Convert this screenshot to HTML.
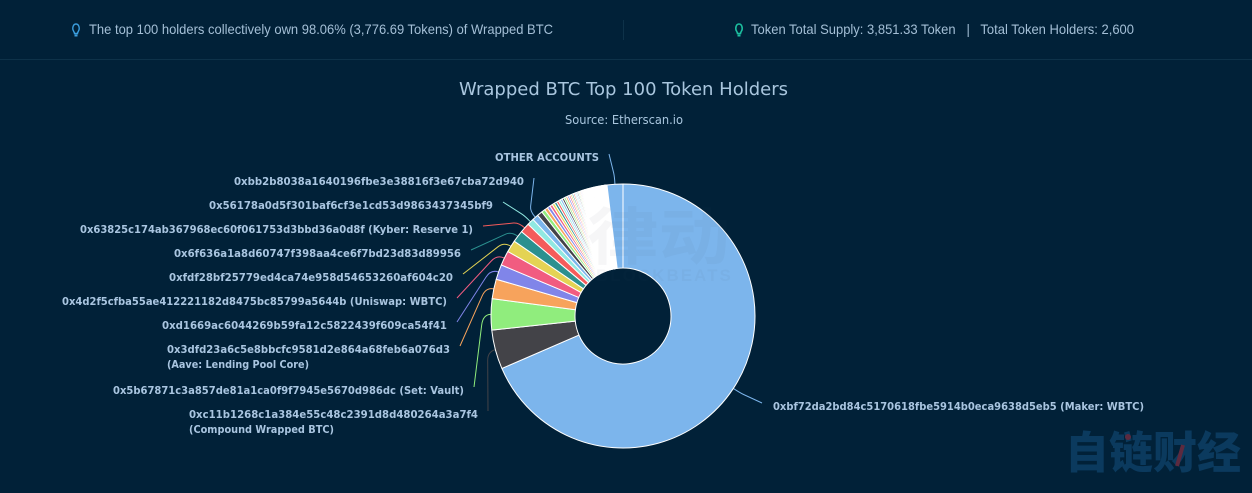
<!DOCTYPE html>
<html lang="en">
<head>
<meta charset="utf-8">
<title>Wrapped BTC Top 100 Token Holders</title>
<style>
html,body{margin:0;padding:0;width:1252px;height:493px;overflow:hidden;background:#012138;}
svg{display:block;}
.stat{font-family:"Liberation Sans",sans-serif;font-size:14px;fill:#a4bfd6;}
.lbl{font-family:"DejaVu Sans",sans-serif;font-size:11px;font-weight:bold;fill:#a9c5e0;}
</style>
</head>
<body>
<svg id="chart" xmlns="http://www.w3.org/2000/svg" width="1252" height="493" viewBox="0 0 1252 493">
  <rect x="0" y="0" width="1252" height="493" fill="#012138"/>
  <line x1="0" y1="59.5" x2="1252" y2="59.5" stroke="#0e3249"/>
  <line x1="623.5" y1="20" x2="623.5" y2="40" stroke="#0e3249"/>

  <g fill="none" stroke="#3b9ede" stroke-width="1.4">
    <path d="M73.500 31 C72 28.500 73 24 76 24 C79 24 80 28.500 78.500 31 C77.800 32.200 77.500 32.800 77.500 33.500 L74.500 33.500 C74.500 32.800 74.200 32.200 73.500 31 Z"/>
    <line x1="74.500" y1="35.500" x2="77.500" y2="35.500" stroke-width="2"/>
  </g>
  <text class="stat" x="89" y="34" textLength="464" lengthAdjust="spacingAndGlyphs">The top 100 holders collectively own 98.06% (3,776.69 Tokens) of Wrapped BTC</text>

  <g fill="none" stroke="#1cbf9f" stroke-width="1.6">
    <path d="M736.500 31 C735 28.500 736 24 739 24 C742 24 743 28.500 741.500 31 C740.800 32.200 740.500 32.800 740.500 33.500 L737.500 33.500 C737.500 32.800 737.200 32.200 736.500 31 Z"/>
    <line x1="737.500" y1="35.500" x2="740.500" y2="35.500" stroke-width="2"/>
  </g>
  <text class="stat" x="751" y="34" textLength="383" lengthAdjust="spacingAndGlyphs">Token Total Supply: 3,851.33 Token &#160; | &#160; Total Token Holders: 2,600</text>

  <text x="459" y="95" textLength="329" lengthAdjust="spacingAndGlyphs" font-family="'DejaVu Sans',sans-serif" font-size="18" fill="#a9c6de">Wrapped BTC Top 100 Token Holders</text>
  <text x="565" y="124" textLength="118" lengthAdjust="spacingAndGlyphs" font-family="'DejaVu Sans',sans-serif" font-size="12" fill="#a9c6de">Source: Etherscan.io</text>

  <g id="connectors"></g>
  <g id="slices"></g>
  <g id="labels"></g>

  <g opacity="0.045">
    <text x="587" y="259" textLength="143" lengthAdjust="spacingAndGlyphs" font-family="'Noto Sans CJK SC',sans-serif" font-size="62" font-weight="bold" fill="#3f5269">律动</text>
    <text x="596" y="281" font-family="'Liberation Sans',sans-serif" font-size="17" font-weight="bold" letter-spacing="2" fill="#3f5269">BLOCKBEATS</text>
  </g>
  <text x="1065" y="468" textLength="176" lengthAdjust="spacingAndGlyphs" font-family="'Noto Sans CJK SC',sans-serif" font-size="44" font-weight="900" fill="#0b3a5e">自链财经</text>
  <line x1="1183" y1="445" x2="1177" y2="466" stroke="#5c2a3f" stroke-width="4"/>
  <circle cx="1128" cy="437" r="3" fill="#5c2a3f"/>
</svg>

<script>
// Share of total supply per holder (percent), largest first; final entry is all other accounts.
const topShares = [68.5, 4.8, 3.8, 2.4, 1.83, 1.8, 1.47, 1.44, 1.2, 0.83, 0.75, 0.64];
const tailShares = [
  0.45, 0.40, 0.36, 0.33, 0.31, 0.29, 0.27, 0.26, 0.25, 0.24,
  0.23, 0.22, 0.21, 0.20, 0.19, 0.18, 0.17, 0.16, 0.155, 0.15,
  0.145, 0.14, 0.135, 0.13, 0.125, 0.12, 0.115, 0.11, 0.105, 0.10,
  0.097, 0.094, 0.09, 0.087, 0.084, 0.081, 0.078, 0.075, 0.072, 0.07,
  0.067, 0.065, 0.062, 0.06, 0.058, 0.056, 0.054, 0.052, 0.05, 0.048,
  0.046, 0.044, 0.042, 0.04, 0.039, 0.038, 0.037, 0.036, 0.035, 0.034,
  0.033, 0.032, 0.031, 0.03, 0.029, 0.028, 0.027, 0.026, 0.025, 0.024,
  0.023, 0.022, 0.021, 0.02, 0.019, 0.018, 0.017, 0.016, 0.015, 0.014,
  0.014, 0.013, 0.013, 0.012, 0.012, 0.011, 0.011, 0.010
];
const otherShare = [1.94];
const palette = ['#7cb5ec', '#434348', '#90ed7d', '#f7a35c', '#8085e9', '#f15c80', '#e4d354', '#2b908f', '#f45b5b', '#91e8e1'];
const labelKeys = [0, 1, 2, 3, 4, 5, 6, 7, 8, 9, 10, 100];
const labelLines = [
  ['0xbf72da2bd84c5170618fbe5914b0eca9638d5eb5 (Maker: WBTC)'],
  ['0xc11b1268c1a384e55c48c2391d8d480264a3a7f4', '(Compound Wrapped BTC)'],
  ['0x5b67871c3a857de81a1ca0f9f7945e5670d986dc (Set: Vault)'],
  ['0x3dfd23a6c5e8bbcfc9581d2e864a68feb6a076d3', '(Aave: Lending Pool Core)'],
  ['0xd1669ac6044269b59fa12c5822439f609ca54f41'],
  ['0x4d2f5cfba55ae412221182d8475bc85799a5644b (Uniswap: WBTC)'],
  ['0xfdf28bf25779ed4ca74e958d54653260af604c20'],
  ['0x6f636a1a8d60747f398aa4ce6f7bd23d83d89956'],
  ['0x63825c174ab367968ec60f061753d3bbd36a0d8f (Kyber: Reserve 1)'],
  ['0x56178a0d5f301baf6cf3e1cd53d9863437345bf9'],
  ['0xbb2b8038a1640196fbe3e38816f3e67cba72d940'],
  ['OTHER ACCOUNTS']
];

// Layout only: label box placement [left, right, first-line centre y, second-line right].
const labelBoxes = [
  [773, 1144, 406, 0], [189, 478, 414, 334], [113, 464, 390, 0], [167, 450, 349, 309],
  [162, 447, 325, 0], [62, 447, 301, 0], [169, 453, 277, 0], [174, 461, 253, 0],
  [80, 473, 229, 0], [209, 493, 205, 0], [234, 524, 181, 0], [495, 599, 157, 0]
];
const SVGNS = 'http://www.w3.org/2000/svg';
const CX = 623, CY = 316, R = 132, RI = 48;

const shares = topShares.concat(tailShares, otherShare);
const total = shares.reduce(function (a, b) { return a + b; }, 0);

function shareToAngle(v) { return v / total * 2 * Math.PI; }
function polar(a, r) { return [CX + r * Math.sin(a), CY - r * Math.cos(a)]; }
function f(n) { return n.toFixed(2); }

const sliceGroup = document.getElementById('slices');
const connectorGroup = document.getElementById('connectors');
const labelGroup = document.getElementById('labels');
const midAngles = [];

let cursor = 0;
shares.forEach(function (v, i) {
  const a0 = cursor;
  const a1 = cursor + shareToAngle(v);
  cursor = a1;
  midAngles.push((a0 + a1) / 2);
  const p0 = polar(a0, R), p1 = polar(a1, R), p2 = polar(a1, RI), p3 = polar(a0, RI);
  const large = a1 - a0 > Math.PI ? 1 : 0;
  const d = 'M' + f(p0[0]) + ' ' + f(p0[1]) +
    ' A' + R + ' ' + R + ' 0 ' + large + ' 1 ' + f(p1[0]) + ' ' + f(p1[1]) +
    ' L' + f(p2[0]) + ' ' + f(p2[1]) +
    ' A' + RI + ' ' + RI + ' 0 ' + large + ' 0 ' + f(p3[0]) + ' ' + f(p3[1]) + ' Z';
  const path = document.createElementNS(SVGNS, 'path');
  path.setAttribute('d', d);
  path.setAttribute('fill', palette[i % palette.length]);
  path.setAttribute('stroke', '#ffffff');
  path.setAttribute('stroke-width', '1');
  path.setAttribute('stroke-linejoin', 'round');
  
  
  sliceGroup.appendChild(path);
});

labelKeys.forEach(function (key, i) {
  const box = labelBoxes[i];
  const lines = labelLines[i];
  const onRight = midAngles[key] < Math.PI;
  const startX = onRight ? box[0] - 11 : box[1] + 10;
  const startY = box[2] - 3;
  const edge = polar(midAngles[key], R);
  const knee = polar(midAngles[key], R + 8);
  const bend = [startX + (knee[0] - startX) * 0.85, startY + (knee[1] - startY) * 0.85];

  const conn = document.createElementNS(SVGNS, 'path');
  conn.setAttribute('d', 'M' + f(startX) + ' ' + f(startY) + ' L' + f(bend[0]) + ' ' + f(bend[1]) +
    ' Q' + f(knee[0]) + ' ' + f(knee[1]) + ' ' + f(edge[0]) + ' ' + f(edge[1]));
  conn.setAttribute('fill', 'none');
  conn.setAttribute('stroke', palette[key % palette.length]);
  conn.setAttribute('stroke-width', '1');
  
  
  connectorGroup.appendChild(conn);

  lines.forEach(function (line, j) {
    const t = document.createElementNS(SVGNS, 'text');
    t.setAttribute('class', 'lbl');
    t.setAttribute('x', box[0]);
    t.setAttribute('y', box[2] + 4 + j * 15);
    const right = j === 0 ? box[1] : box[3];
    t.setAttribute('textLength', right - box[0]);
    t.setAttribute('lengthAdjust', 'spacingAndGlyphs');
    
    
    t.textContent = line;
    labelGroup.appendChild(t);
  });
});
</script>
</body>
</html>
